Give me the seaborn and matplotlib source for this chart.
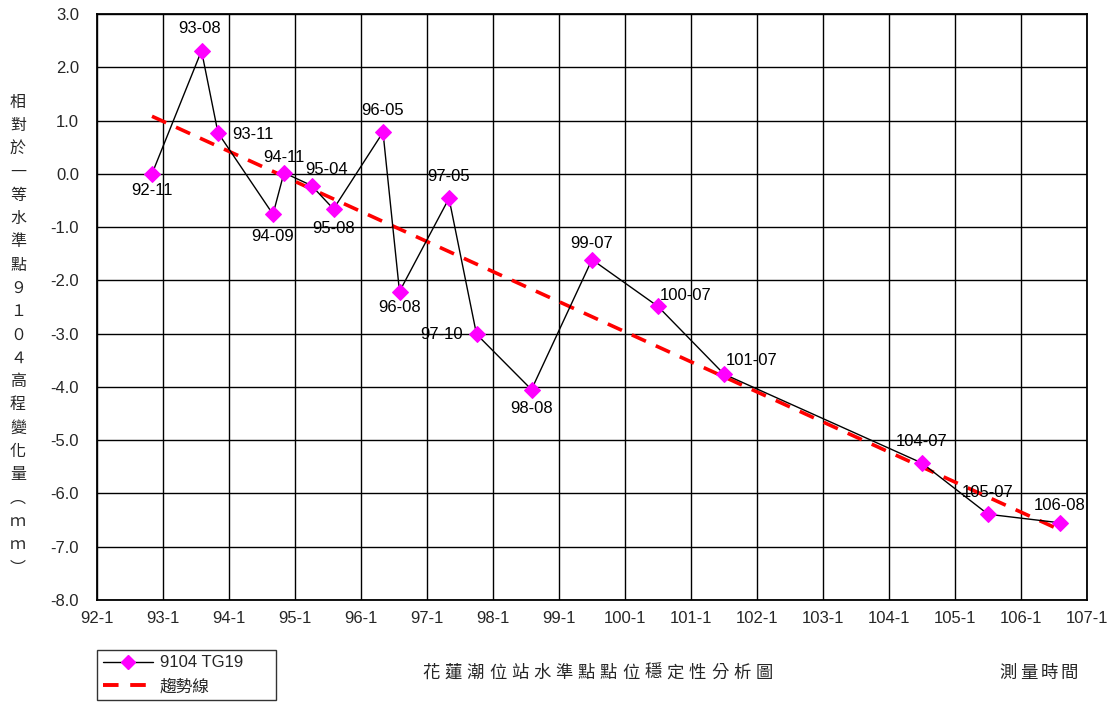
import numpy as np
import pandas as pd
import matplotlib
matplotlib.use("Agg")
import matplotlib.pyplot as plt
import seaborn as sns
from matplotlib.lines import Line2D

# ---------------- data ----------------
dates = ["92-11", "93-08", "93-11", "94-09", "94-11", "95-04", "95-08", "96-05", "96-08",
         "97-05", "97-10", "98-08", "99-07", "100-07", "101-07", "104-07", "105-07", "106-08"]
values = [0.00, 2.31, 0.77, -0.76, 0.02, -0.22, -0.66, 0.78, -2.21,
          -0.46, -3.01, -4.05, -1.61, -2.49, -3.76, -5.43, -6.39, -6.55]
trend_dates = ["92-11", "106-08"]
trend_values = [1.08, -6.68]
x_years = list(range(92, 108))
x_tick_labels = [f"{y}-1" for y in x_years]
y_ticks = [3.0, 2.0, 1.0, 0.0, -1.0, -2.0, -3.0, -4.0, -5.0, -6.0, -7.0, -8.0]
series_name = "9104 TG19"
trend_name = "趨勢線"
title_text = "花蓮潮位站水準點點位穩定性分析圖"
xlabel_text = "測量時間"
ylabel_text = "相對於一等水準點９１０４高程變化量︵ｍｍ︶"


def to_year(s):
    yy, mm = s.split("-")
    return int(yy) + (int(mm) - 1) / 12.0


df = pd.DataFrame({"x": [to_year(d) for d in dates], "y": values, "label": dates})
tdf = pd.DataFrame({"x": [to_year(d) for d in trend_dates], "y": trend_values})

# label offsets in pixels (layout)
offsets = {
    "92-11": (0, -17, "center"), "93-08": (-2, 22, "center"), "93-11": (14, -2, "left"),
    "94-09": (0, -22, "center"), "94-11": (0, 15, "center"), "95-04": (15, 16, "center"),
    "95-08": (0, -20, "center"), "96-05": (0, 22, "center"), "96-08": (0, -16, "center"),
    "97-05": (0, 22, "center"), "97-10": (-14, 0, "right"), "98-08": (0, -19, "center"),
    "99-07": (0, 16, "center"), "100-07": (28, 11, "center"), "101-07": (28, 14, "center"),
    "104-07": (0, 22, "center"), "105-07": (0, 22, "center"), "106-08": (0, 17, "center"),
}

# ---------------- style ----------------
sns.set_theme(style="white")
plt.rcParams["font.family"] = ["Liberation Sans", "Noto Sans CJK TC", "DejaVu Sans"]
plt.rcParams["axes.unicode_minus"] = False

W, H = 1111, 704
fig = plt.figure(figsize=(W / 100, H / 100), dpi=100)
ax = fig.add_axes([97 / W, 104 / H, 990 / W, 586 / H])

sns.lineplot(data=tdf, x="x", y="y", ax=ax, color="#FF0000", linewidth=2.6,
             estimator=None, sort=False, zorder=3, dashes=False, legend=False)
ax.lines[-1].set_dashes((4.3, 3.0))
sns.lineplot(data=df, x="x", y="y", ax=ax, color="black", linewidth=1.0,
             marker="D", markersize=8.5, markerfacecolor="#FF00FF", markeredgecolor="#FF00FF",
             estimator=None, sort=False, zorder=4, legend=False)

for _, r in df.iterrows():
    dx, dy, ha = offsets[r["label"]]
    ax.annotate(r["label"], (r["x"], r["y"]), xytext=(dx, dy), textcoords="offset pixels",
                ha=ha, va="center", fontsize=12, color="black", zorder=6)

ax.set_xlim(92, 107)
ax.set_ylim(-8, 3)
ax.set_xticks(x_years)
ax.set_xticklabels(x_tick_labels, fontsize=12)
ax.set_yticks(y_ticks)
ax.set_yticklabels([f"{v:.1f}" for v in y_ticks], fontsize=12)
ax.tick_params(axis="both", length=0)
ax.tick_params(axis="y", pad=13)
ax.tick_params(axis="x", pad=8)
ax.set_xlabel("")
ax.set_ylabel("")
ax.grid(True, color="black", linewidth=1.0)
ax.set_axisbelow(True)
for sp in ax.spines.values():
    sp.set_color("black")
    sp.set_linewidth(1.3)

# y label: stacked characters
cjk = ["Noto Sans CJK TC", "DejaVu Sans"]
n = len(ylabel_text)
y0, y1 = 102, 568
for i, ch in enumerate(ylabel_text):
    yp = y0 + (y1 - y0) * i / (n - 1)
    fig.text(18 / W, 1 - yp / H, ch, ha="center", va="center", fontsize=11.5, family=cjk)

# title at bottom, spaced characters
pitch = 22.2
start = 431
for i, ch in enumerate(title_text):
    fig.text((start + i * pitch) / W, 1 - 673 / H, ch, ha="center", va="center",
             fontsize=12.5, family=cjk)
pitch2 = 20.5
start2 = 1008
for i, ch in enumerate(xlabel_text):
    fig.text((start2 + i * pitch2) / W, 1 - 673 / H, ch, ha="center", va="center",
             fontsize=12.5, family=cjk)

# legend
h1 = Line2D([], [], color="black", linewidth=1.0, marker="D", markersize=7,
            markerfacecolor="#FF00FF", markeredgecolor="#FF00FF")
h2 = Line2D([], [], color="#FF0000", linewidth=2.8, dashes=(4.0, 3.0))
leg = fig.legend([h1, h2], [series_name, trend_name], loc="lower left",
                 bbox_to_anchor=(97 / W, 4 / H, 179 / W, 52 / H), mode="expand",
                 frameon=True, fancybox=False, edgecolor="black", fontsize=12,
                 handlelength=3.0, numpoints=1, borderpad=0.35, labelspacing=0.5,
                 handletextpad=0.4, borderaxespad=0)
leg.get_frame().set_linewidth(1.0)
for t in leg.get_texts():
    t.set_family(["Liberation Sans", "Noto Sans CJK TC", "DejaVu Sans"])

fig.savefig("out.png", dpi=100)
